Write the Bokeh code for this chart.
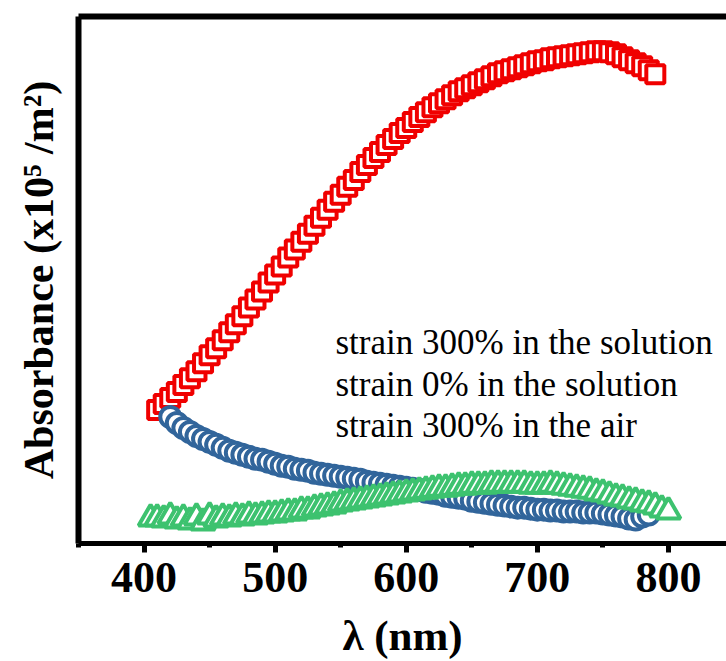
from bokeh.plotting import figure
from bokeh.models import Range1d, LinearAxis, FixedTicker, Label
from bokeh.embed import file_html
from bokeh.resources import INLINE

# ---- data (wavelength in nm, absorbance in arbitrary units) ----
red_x = list(range(410, 795, 5))
red_y = [1.34, 1.40, 1.46, 1.52, 1.59, 1.66, 1.73, 1.81, 1.89, 1.96,
         2.04, 2.12, 2.20, 2.28, 2.37, 2.45, 2.53, 2.62, 2.70, 2.78,
         2.87, 2.95, 3.03, 3.11, 3.19, 3.27, 3.35, 3.43, 3.50, 3.58,
         3.65, 3.73, 3.80, 3.87, 3.93, 4.00, 4.06, 4.12, 4.17, 4.23,
         4.28, 4.33, 4.38, 4.42, 4.46, 4.50, 4.54, 4.57, 4.60, 4.63,
         4.66, 4.69, 4.72, 4.74, 4.76, 4.78, 4.80, 4.82, 4.84, 4.85,
         4.87, 4.88, 4.89, 4.90, 4.91, 4.92, 4.93, 4.94, 4.94, 4.93,
         4.91, 4.88, 4.85, 4.82, 4.79, 4.75, 4.71]

blue_x = list(range(420, 790, 5))
blue_y = [1.27, 1.21, 1.16, 1.12, 1.08, 1.05, 1.02, 0.99, 0.96, 0.93,
          0.91, 0.89, 0.87, 0.85, 0.84, 0.82, 0.80, 0.78, 0.77, 0.75,
          0.74, 0.73, 0.71, 0.70, 0.69, 0.68, 0.67, 0.66, 0.65, 0.64,
          0.62, 0.61, 0.60, 0.59, 0.58, 0.57, 0.56, 0.55, 0.54, 0.52,
          0.51, 0.50, 0.48, 0.47, 0.46, 0.45, 0.43, 0.42, 0.41, 0.40,
          0.39, 0.38, 0.37, 0.36, 0.36, 0.35, 0.34, 0.34, 0.33, 0.33,
          0.32, 0.32, 0.32, 0.31, 0.31, 0.31, 0.30, 0.29, 0.28, 0.27,
          0.25, 0.24, 0.27, 0.29]

green_x = list(range(405, 805, 5))
green_y = [0.25, 0.25, 0.24, 0.27, 0.23, 0.25, 0.22, 0.26, 0.21, 0.27,
           0.24, 0.26, 0.25, 0.27, 0.26, 0.28, 0.27, 0.28, 0.29, 0.29,
           0.30, 0.31, 0.31, 0.33, 0.33, 0.35, 0.36, 0.37, 0.38, 0.40,
           0.41, 0.42, 0.43, 0.44, 0.45, 0.46, 0.47, 0.48, 0.49, 0.50,
           0.51, 0.52, 0.53, 0.54, 0.55, 0.55, 0.56, 0.57, 0.57, 0.58,
           0.58, 0.58, 0.59, 0.59, 0.59, 0.59, 0.59, 0.59, 0.58, 0.58,
           0.58, 0.59, 0.58, 0.57, 0.56, 0.55, 0.54, 0.53, 0.51, 0.50,
           0.48, 0.46, 0.45, 0.43, 0.42, 0.40, 0.39, 0.37, 0.34, 0.32]

x_ticks = [400, 500, 600, 700, 800]
x_minor = [350, 450, 550, 650, 750, 850]
legend_texts = ["strain 300% in the solution",
                "strain 0% in the solution",
                "strain 300% in the air"]
x_title = "λ (nm)"
y_title = "Absorbance (x10⁵ /m²)"

RED = "#f00000"
BLUE = "#31659b"
GREEN = "#3dc26f"
SERIF = "Liberation Serif"

X0, X1 = 350, 844.3
Y0, Y1 = 0, 5.29
LEFT, TOP, BOTTOM = 78, 16, 116
W, H = 726, 661

p = figure(width=W, height=H, output_backend="svg", toolbar_location=None,
           x_range=Range1d(X0, X1), y_range=Range1d(Y0, Y1),
           min_border_left=LEFT, min_border_right=0,
           min_border_top=TOP, min_border_bottom=BOTTOM)
p.outline_line_color = None
p.xgrid.visible = False
p.ygrid.visible = False
p.background_fill_color = "white"
p.border_fill_color = "white"

# pixel helpers for annotation placement
fw = W - LEFT
fh = H - TOP - BOTTOM
def dx(px):
    return X0 + (px - LEFT) * (X1 - X0) / fw
def dy(py):
    return Y0 + (H - BOTTOM - py) * (Y1 - Y0) / fh

xa = p.xaxis[0]
xa.ticker = FixedTicker(ticks=x_ticks, minor_ticks=x_minor)
xa.axis_line_width = 5
xa.axis_line_color = "black"
xa.major_tick_line_width = 5
xa.minor_tick_line_width = 5
xa.major_tick_in = 0
xa.major_tick_out = 9
xa.minor_tick_in = 0
xa.minor_tick_out = 4
xa.major_label_text_font = SERIF
xa.major_label_text_font_style = "bold"
xa.major_label_text_font_size = "44px"
xa.major_label_text_color = "black"
xa.major_label_standoff = 10
xa.axis_label = x_title
xa.axis_label_text_font = SERIF
xa.axis_label_text_font_style = "bold"
xa.axis_label_text_font_size = "43px"
xa.axis_label_text_color = "black"
xa.axis_label_standoff = 17

def frame_axis(ax, lw):
    ax.ticker = FixedTicker(ticks=[])
    ax.axis_line_width = lw
    ax.axis_line_color = "black"
    ax.major_tick_in = 0
    ax.major_tick_out = 0
    ax.minor_tick_in = 0
    ax.minor_tick_out = 0
    ax.major_label_text_font_size = "0px"

ya = p.yaxis[0]
frame_axis(ya, 6)
ya.axis_label = y_title
ya.axis_label_text_font = SERIF
ya.axis_label_text_font_style = "bold"
ya.axis_label_text_font_size = "42px"
ya.axis_label_text_color = "black"
ya.axis_label_standoff = 17

top_axis = LinearAxis()
frame_axis(top_axis, 6)
p.add_layout(top_axis, "above")

p.scatter(red_x, red_y, marker="square", size=18, line_color=RED,
          line_width=4, fill_color="white")
p.scatter(blue_x, blue_y, marker="circle", size=20, line_color=BLUE,
          line_width=4, fill_color="white")
p.scatter(green_x, green_y, marker="triangle", size=24, line_color=GREEN,
          line_width=4, fill_color="white")

# legend-like text inside the frame
for i, t in enumerate(legend_texts):
    p.add_layout(Label(x=dx(335), y=dy(343 + 42 * i), text=t,
                       text_font=SERIF, text_font_size="35px",
                       text_color="black", text_align="left",
                       text_baseline="alphabetic"))

open("out.html", "w").write(file_html(p, INLINE))
